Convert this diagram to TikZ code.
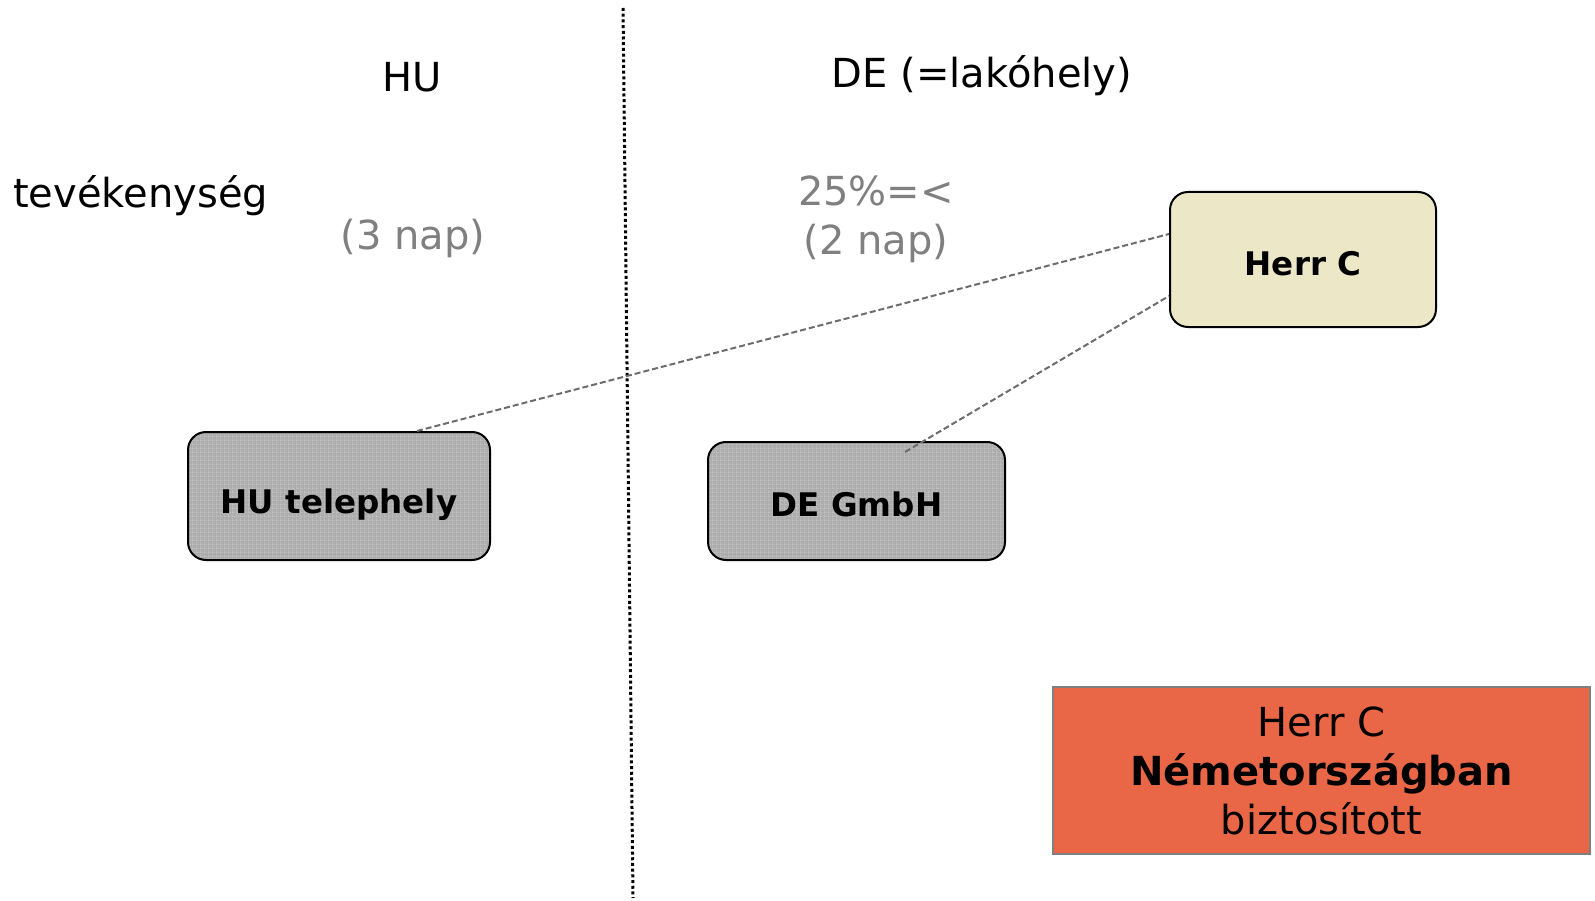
\documentclass[tikz,border=0pt]{standalone}
\usepackage{fontspec}
\setmainfont{DejaVu Sans}
\usetikzlibrary{patterns.meta,calc}
\definecolor{hcfill}{HTML}{ECE7C6}
\definecolor{redfill}{HTML}{E96747}
\definecolor{txtgray}{HTML}{808080}
\tikzdeclarepattern{
  name=mygrid, type=uncolored,
  bottom left={(0pt,0pt)}, top right={(4pt,4pt)}, tile size={(4pt,4pt)},
  code={\draw[line width=0.8pt] (0pt,0pt) -- (4pt,0pt) (0pt,0pt) -- (0pt,4pt);}
}
\tikzset{
  graybox/.style={draw=black, line width=2pt, rounded corners=18pt,
    preaction={fill=gray!64}, pattern=mygrid, pattern color=gray!38,
    text height=32pt, font=\fontsize{32.5}{36}\selectfont\bfseries},
  beigebox/.style={draw=black, line width=2pt, rounded corners=18pt, fill=hcfill,
    text height=32pt, font=\fontsize{32.5}{36}\selectfont\bfseries},
  redbox/.style={draw=gray, line width=1.5pt, fill=redfill, align=center,
    font=\fontsize{40}{49}\selectfont},
  bigtxt/.style={font=\fontsize{40}{49}\selectfont, inner sep=0pt},
  graytxt/.style={bigtxt, text=txtgray, align=center},
  conn/.style={draw=gray!85!black, line width=2pt, dash pattern=on 6pt off 3pt}
}
\begin{document}
\begin{tikzpicture}[x=1pt,y=-1pt]
\useasboundingbox (0,0) rectangle (1595,901);
% divider
\coordinate (dtop) at (623,8);
\coordinate (dbot) at (633,898);
\draw[line width=3pt, dash pattern=on 3pt off 2.7pt] (dtop) -- (dbot);
% headings
\node[bigtxt] (hu) at (412,77) {HU};
\node[bigtxt] (de) at (982,76) {DE (=lakóhely)};
\node[bigtxt, anchor=west] (tev) at (13,196) {tevékenység};
\node[graytxt] (hu3) at (413,238.5) {(3 nap)};
\node[graytxt] (de2) at (876,219) {25\%=<\\(2 nap)};
% boxes
\node[beigebox, minimum width=266pt, minimum height=135pt] (herr) at (1303,259.5) {Herr C};
\node[graybox, text height=42pt, minimum width=302pt, minimum height=128pt] (hut) at (339,496) {HU telephely};
\node[graybox, minimum width=297pt, minimum height=118pt] (deg) at (856.5,501) {DE GmbH};
\node[redbox, minimum width=537pt, minimum height=167pt] (red) at (1321.5,770.5)
  {Herr C\\\textbf{Németországban}\\biztosított};
% connectors
\draw[conn] ($(hut.north)+(78,0)$) -- ($(herr.west)+(0,-25.5)$);
\draw[conn] ($(deg.north)+(48.5,11)$) -- ($(herr.west)+(0,36.5)$);
\end{tikzpicture}
\end{document}
